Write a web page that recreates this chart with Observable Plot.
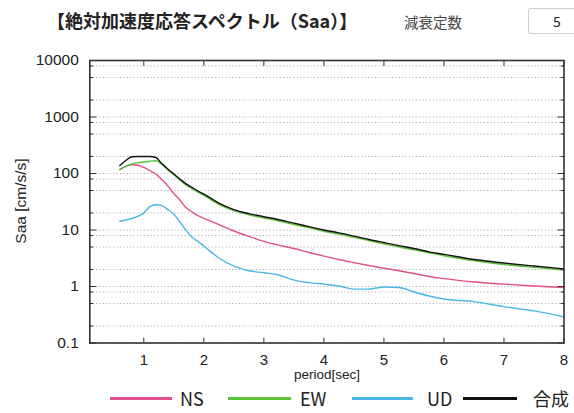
<!DOCTYPE html>
<html><head><meta charset="utf-8">
<script src="https://cdn.jsdelivr.net/npm/d3@7"></script>
<script src="https://cdn.jsdelivr.net/npm/@observablehq/plot@0.6"></script>
<style>
body{margin:0;background:#fff;}
#wrap{position:relative;width:574px;height:413px;overflow:hidden;font-family:"Noto Sans CJK JP","Noto Sans",sans-serif;}
#head{position:relative;height:45px;}
#title{position:absolute;left:47px;top:7px;font-size:18px;font-weight:bold;color:#222;white-space:nowrap;}
#damp{position:absolute;left:404px;top:11px;font-size:14.5px;color:#444;white-space:nowrap;}
#box{position:absolute;left:528px;top:8px;width:60px;height:24px;border:1px solid #ccc;border-radius:2px;}
#box span{position:absolute;left:24px;top:2px;font-size:14px;color:#222;}
#chart{position:relative;height:340px;}
#ylab{position:absolute;left:21px;top:201px;transform:translate(-50%,-50%) rotate(-90deg);font-family:"Liberation Sans",Arial,sans-serif;font-size:15.5px;color:#222;white-space:nowrap;}
#legend{position:relative;height:28px;}
.sw{position:absolute;top:12px;height:3px;}
.lt{position:absolute;top:0px;font-size:18px;color:#222;white-space:nowrap;}
</style></head>
<body><div id="wrap">
<div id="head"><div id="title">【絶対加速度応答スペクトル（Saa）】</div><div id="damp">減衰定数</div><div id="box"><span>5</span></div></div>
<div id="chart"></div>
<div id="legend"></div>
<div id="ylab"></div>
</div>
<script>
const period = [0.6,0.7,0.8,0.9,1.0,1.1,1.2,1.3,1.4,1.5,1.6,1.7,1.8,1.9,2.0,2.25,2.5,2.75,3.0,3.25,3.5,3.75,4.0,4.25,4.5,4.75,5.0,5.25,5.5,5.75,6.0,6.5,7.0,7.5,8.0];
const ns  = [118,135,143,140,128,113,98,78,60,44,34,25,21,18,16,12.5,9.6,7.7,6.3,5.4,4.7,4.0,3.45,3.0,2.65,2.35,2.1,1.9,1.7,1.5,1.38,1.2,1.1,1.02,0.96];
const ew  = [116,135,148,155,160,165,168,145,116,95,77,63,54,47,41,28.5,22,18.5,16.3,14.4,12.5,11,9.5,8.5,7.4,6.5,5.7,5.0,4.45,3.95,3.5,2.85,2.45,2.18,1.95];
const ud  = [14.3,15,16,17.5,20,26,28,27,23,19,14,10,7.5,6.3,5.2,3.2,2.3,1.9,1.75,1.6,1.3,1.17,1.1,1.02,0.9,0.9,0.98,0.96,0.8,0.68,0.6,0.54,0.44,0.37,0.29];
const comp= [139,170,198,200,200,200,192,150,120,98,80,66,57,49,43,30,23,19.5,17.2,15.2,13.2,11.5,10.0,8.9,7.8,6.8,6.0,5.3,4.7,4.1,3.7,3.0,2.6,2.3,2.05];
const seriesNames = ["NS","EW","UD","合成"];
const seriesColors = ["#e2508c","#5cc23a","#4cb6e4","#111111"];
const xTicks = [1,2,3,4,5,6,7,8];
const yTicks = [0.1,1,10,100,1000,10000];
const minorMult = [2,5,8];
const xLabel = "period[sec]";
const yLabel = "Saa [cm/s/s]";

const values = [ns, ew, ud, comp];
const rows = seriesNames.flatMap((s, k) => period.map((p, i) => ({s, p, v: values[k][i]})));
const minorTicks = yTicks.slice(0, -1).flatMap(d => minorMult.map(m => +(d * m).toPrecision(3)));
const gridVals = [...yTicks, ...minorTicks];
const noText = () => "";

const chart = Plot.plot({
  width: 574, height: 340,
  marginLeft: 89.3, marginRight: 10.5, marginTop: 15, marginBottom: 42.5,
  style: {fontFamily: "Liberation Sans, Arial, sans-serif", background: "#fff", overflow: "visible"},
  x: {domain: [0.1, 8], label: null},
  y: {type: "log", domain: [0.1, 10000], label: null},
  color: {domain: seriesNames, range: seriesColors},
  marks: [
    Plot.ruleY(gridVals, {stroke: "#a8a8a8", strokeDasharray: "1.2,2.2", strokeWidth: 0.9}),
    Plot.line(rows, {x: "p", y: "v", z: "s", stroke: "s", strokeWidth: 1.4, curve: "monotone-x"}),
    Plot.axisY(yTicks, {anchor: "left", tickSize: -7, tickPadding: 18, tickFormat: d => String(d), fontSize: 15.5, color: "#222", stroke: "#333"}),
    Plot.axisY(minorTicks, {anchor: "left", tickSize: -4, tickFormat: noText, stroke: "#333"}),
    Plot.axisY(yTicks, {anchor: "right", tickSize: -7, tickFormat: noText, stroke: "#333"}),
    Plot.axisY(minorTicks, {anchor: "right", tickSize: -4, tickFormat: noText, stroke: "#333"}),
    Plot.axisX(xTicks, {anchor: "bottom", tickSize: -5, tickPadding: 16, tickFormat: d => String(d), fontSize: 15, color: "#222", stroke: "#333"}),
    Plot.axisX(xTicks, {anchor: "top", tickSize: -5, tickFormat: noText, stroke: "#333"}),
    Plot.frame({stroke: "#333", strokeWidth: 1.6}),
    Plot.text([xLabel], {frameAnchor: "bottom", dy: 36, fontSize: 13.5, fill: "#222"})
  ]
});
document.getElementById("chart").appendChild(chart);
document.getElementById("ylab").textContent = yLabel;

const legendPos = [[110, 62, 180], [228, 63, 300], [352, 61, 427], [463, 54, 533]];
const lg = document.getElementById("legend");
seriesNames.forEach((s, i) => {
  const [x, w, tx] = legendPos[i];
  const sw = document.createElement("div");
  sw.className = "sw"; sw.style.left = x + "px"; sw.style.width = w + "px"; sw.style.background = seriesColors[i];
  const t = document.createElement("div");
  t.className = "lt"; t.style.left = tx + "px"; t.textContent = s;
  lg.appendChild(sw); lg.appendChild(t);
});
</script>
</body></html>
